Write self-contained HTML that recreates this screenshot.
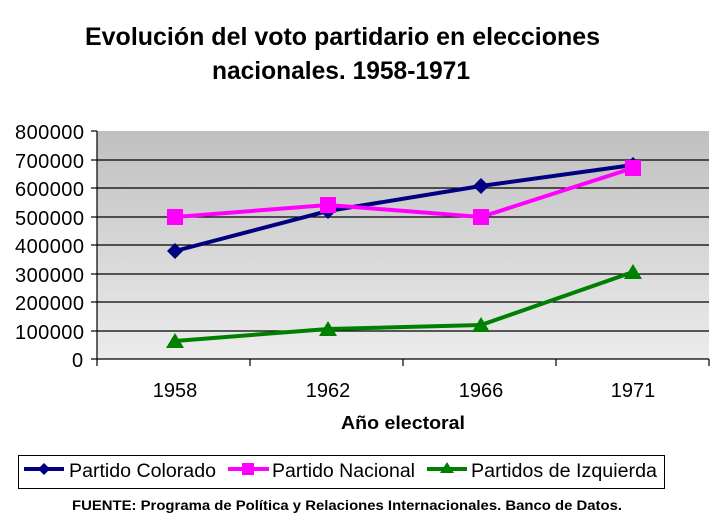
<!DOCTYPE html>
<html><head><meta charset="utf-8"><style>
body{margin:0;background:#fff;width:724px;height:526px;overflow:hidden}
</style></head><body>
<svg width="724" height="526" xmlns="http://www.w3.org/2000/svg" font-family="Liberation Sans, Arial, sans-serif">
<defs><linearGradient id="g" x1="0" y1="0" x2="0" y2="1"><stop offset="0" stop-color="#c0c0c0"/><stop offset="1" stop-color="#ececec"/></linearGradient></defs>
<text x="85" y="45" font-size="25" font-weight="bold" textLength="515" lengthAdjust="spacingAndGlyphs">Evolución del voto partidario en elecciones</text>
<text x="212" y="79" font-size="25" font-weight="bold" textLength="258" lengthAdjust="spacingAndGlyphs">nacionales. 1958-1971</text>
<rect x="97" y="131" width="612" height="228" fill="url(#g)"/>
<g stroke="#000" stroke-width="1.2">
<line x1="97" y1="160" x2="709" y2="160"/><line x1="97" y1="188" x2="709" y2="188"/><line x1="97" y1="217" x2="709" y2="217"/><line x1="97" y1="245" x2="709" y2="245"/><line x1="97" y1="274" x2="709" y2="274"/><line x1="97" y1="302" x2="709" y2="302"/><line x1="97" y1="331" x2="709" y2="331"/>
<line x1="97" y1="131" x2="97" y2="366"/><line x1="91" y1="359" x2="709" y2="359"/>
<line x1="91" y1="131" x2="97" y2="131"/><line x1="91" y1="160" x2="97" y2="160"/><line x1="91" y1="188" x2="97" y2="188"/><line x1="91" y1="217" x2="97" y2="217"/><line x1="91" y1="245" x2="97" y2="245"/><line x1="91" y1="274" x2="97" y2="274"/><line x1="91" y1="302" x2="97" y2="302"/><line x1="91" y1="331" x2="97" y2="331"/>
<line x1="250" y1="359" x2="250" y2="366"/><line x1="403" y1="359" x2="403" y2="366"/><line x1="556" y1="359" x2="556" y2="366"/><line x1="709" y1="359" x2="709" y2="366"/>
</g>
<g font-size="20" lengthAdjust="spacingAndGlyphs">
<text x="15" y="139" textLength="69">800000</text><text x="15" y="168" textLength="69">700000</text><text x="15" y="196" textLength="69">600000</text><text x="15" y="225" textLength="69">500000</text><text x="15" y="253" textLength="69">400000</text><text x="15" y="282" textLength="69">300000</text><text x="15" y="310" textLength="69">200000</text><text x="15" y="339" textLength="69">100000</text><text x="72" y="367">0</text>
</g>
<g font-size="20" text-anchor="middle"><text x="175" y="397">1958</text><text x="328" y="397">1962</text><text x="481" y="397">1966</text><text x="633" y="397">1971</text></g>
<text x="341" y="429" font-size="18" font-weight="bold" textLength="124" lengthAdjust="spacingAndGlyphs">Año electoral</text>
<text transform="translate(-5,245) rotate(-90)" font-size="18" font-weight="bold" text-anchor="middle">Votos</text>
<polyline points="175,251 328,211 481,186 633,165" fill="none" stroke="#000080" stroke-width="4"/>
<g fill="#000080"><path d="M175,243l8,8l-8,8l-8,-8z"/><path d="M328,203l8,8l-8,8l-8,-8z"/><path d="M481,178l8,8l-8,8l-8,-8z"/><path d="M633,157l8,8l-8,8l-8,-8z"/></g>
<polyline points="175,217 328,205 481,217 633,168" fill="none" stroke="#ff00ff" stroke-width="4"/>
<g fill="#ff00ff"><rect x="167" y="209" width="16" height="16"/><rect x="320" y="197" width="16" height="16"/><rect x="473" y="209" width="16" height="16"/><rect x="625" y="160" width="16" height="16"/></g>
<polyline points="175,341 328,329 481,325 633,272" fill="none" stroke="#008000" stroke-width="4"/>
<g fill="#008000"><path d="M175,333l9,15h-18z"/><path d="M328,321l9,15h-18z"/><path d="M481,317l9,15h-18z"/><path d="M633,264l9,15h-18z"/></g>
<rect x="18.5" y="455.5" width="646" height="33" fill="#fff" stroke="#000"/>
<line x1="24" y1="469" x2="64" y2="469" stroke="#000080" stroke-width="4"/><path d="M44,463l6,6l-6,6l-6,-6z" fill="#000080"/>
<text x="69" y="477" font-size="19" textLength="147" lengthAdjust="spacingAndGlyphs">Partido Colorado</text>
<line x1="228" y1="469" x2="269" y2="469" stroke="#ff00ff" stroke-width="4"/><rect x="242" y="463" width="12" height="12" fill="#ff00ff"/>
<text x="272" y="477" font-size="19" textLength="143" lengthAdjust="spacingAndGlyphs">Partido Nacional</text>
<line x1="427" y1="469" x2="467" y2="469" stroke="#008000" stroke-width="4"/><path d="M447,462l7,11h-14z" fill="#008000"/>
<text x="471" y="477" font-size="19" textLength="186" lengthAdjust="spacingAndGlyphs">Partidos de Izquierda</text>
<text x="72" y="510" font-size="13.5" font-weight="bold" textLength="550" lengthAdjust="spacingAndGlyphs">FUENTE: Programa de Política y Relaciones Internacionales. Banco de Datos.</text>
</svg>
</body></html>
